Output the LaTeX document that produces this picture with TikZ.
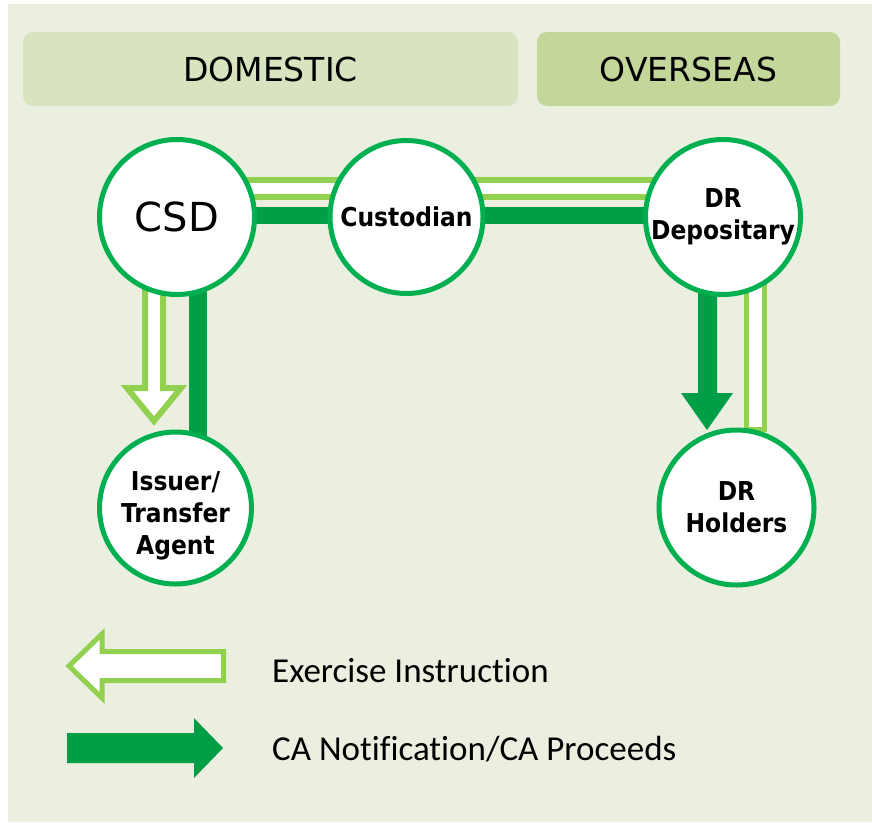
\documentclass[tikz,border=0pt]{standalone}
\usepackage{fontspec}
\usetikzlibrary{calc}
\newfontfamily\nodefont[FakeStretch=0.9]{DejaVu Sans}
\newfontfamily\headfont{DejaVu Sans}
\newfontfamily\legfont[Ligatures=NoCommon]{Carlito}
\definecolor{panelbg}{RGB}{235,239,223}
\definecolor{domfill}{RGB}{216,228,192}
\definecolor{ovsfill}{RGB}{196,215,155}
\definecolor{ringgreen}{RGB}{0,176,80}
\definecolor{darkgreen}{RGB}{0,158,71}
\definecolor{lightgreen}{RGB}{146,208,80}
\pgfdeclarelayer{back}
\pgfsetlayers{back,main}
\begin{document}
\begin{tikzpicture}[x=1pt,y=-1pt,
  ent/.style={circle, draw=ringgreen, line width=5pt, fill=white, minimum size=#1,
    inner sep=0pt, align=center, text=black},
  bigfont/.style={font=\headfont\fontsize{40}{48}\selectfont},
  midfont/.style={font=\nodefont\bfseries\fontsize{26}{32}\selectfont},
  hdr/.style={rounded corners=10pt, inner sep=0pt, minimum height=74pt,
    font=\headfont\fontsize{33}{40}\selectfont, text=black},
  legtext/.style={font=\legfont\fontsize{35}{42}\selectfont, text=black, inner sep=0pt},
  hollowline/.style={draw=lightgreen, line width=23pt, postaction={draw=white, line width=11pt}},
  darkline/.style={draw=darkgreen, line width=17pt},
  hollowarrow/.style={draw=lightgreen, fill=white, line join=miter},
  solidarrow/.style={fill=darkgreen}
]
\useasboundingbox (0,0) rectangle (872,822);
\begin{pgfonlayer}{back}
  \fill[white] (0,0) rectangle (872,822);
  \fill[panelbg] (8,4) rectangle (872,822);
\end{pgfonlayer}

% header boxes
\node[hdr, fill=domfill, minimum width=495pt] (dom) at (270.5,69) {DOMESTIC};
\node[hdr, fill=ovsfill, minimum width=303pt] (ovs) at (688.5,69) {OVERSEAS};

% entities
\node[ent=155pt, bigfont] (csd) at (177,217) {\raisebox{-2pt}{CSD}};
\node[ent=153pt, midfont] (cust) at (406.5,217) {Custodian};
\node[ent=155pt, midfont] (drd) at (723,217) {DR\\Depositary};
\node[ent=152pt, midfont] (iss) at (175.5,508) {\rule{0pt}{34pt}Issuer/\\Transfer\\Agent};
\node[ent=155pt, midfont] (drh) at (736.5,507.5) {DR\\Holders};

% connectors (behind the circles)
\begin{pgfonlayer}{back}
  \draw[hollowline] ([yshift=28.5pt]csd.center) -- ([yshift=28.5pt]cust.center);
  \draw[hollowline] ([yshift=28.5pt]cust.center) -- ([yshift=28.5pt]drd.center);
  \draw[darkline] ([yshift=1.5pt]csd.center) -- ([yshift=1.5pt]cust.center);
  \draw[darkline] ([yshift=1.5pt]cust.center) -- ([yshift=1.5pt]drd.center);
  % CSD -> Issuer
  \fill[darkgreen] ($(csd.center)+(12,0)$) rectangle ($(csd.center |- iss.center)+(30,0)$);
  \draw[hollowarrow, line width=6pt] ($(csd.center)+(-32,0)$) -- (145,388) -- (127,388)
     -- (154,421) -- (181,388) -- (163,388) -- ($(csd.center)+(-14,0)$) -- cycle;
  % DR Depositary -> DR Holders
  \fill[solidarrow] ($(drd.center)+(-25,0)$) -- (698,393) -- (681,393) -- (707,430)
     -- (733,393) -- (717,393) -- ($(drd.center)+(-6,0)$) -- cycle;
  \draw[hollowarrow, line width=5pt] ($(drd.center)+(23.5,0)$) rectangle (764.5,429.5);
\end{pgfonlayer}

% legend
\draw[hollowarrow, line width=5pt] (69,666) -- (102,634) -- (102,651.5) -- (223.5,651.5)
   -- (223.5,680.5) -- (102,680.5) -- (102,698) -- cycle;
\fill[solidarrow] (67,733) -- (194,733) -- (194,718) -- (223,748) -- (194,778)
   -- (194,763) -- (67,763) -- cycle;
\node[legtext, anchor=base west] (l1) at (272,682) {Exercise Instruction};
\node[legtext, anchor=base west] (l2) at (272,760) {CA Notification/CA Proceeds};
\end{tikzpicture}
\end{document}
